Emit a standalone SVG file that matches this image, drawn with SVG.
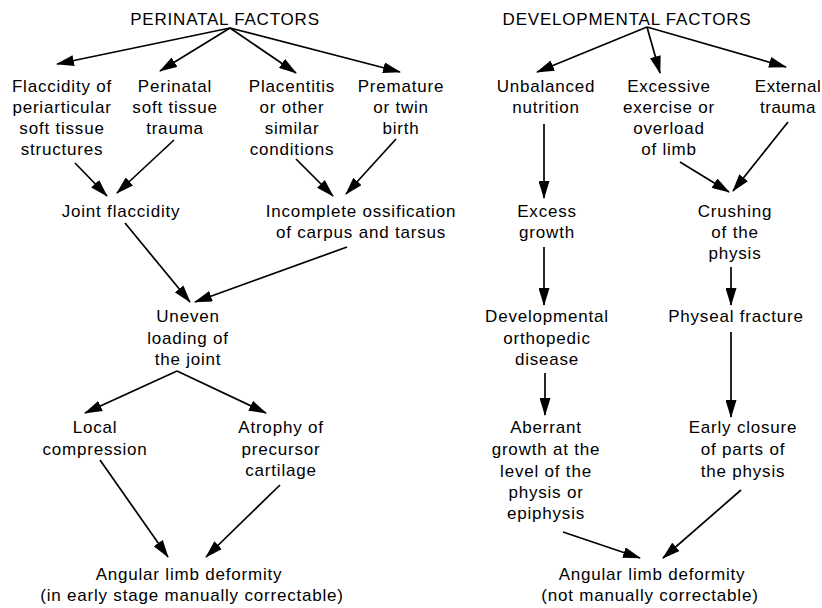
<svg xmlns="http://www.w3.org/2000/svg" width="822" height="608" viewBox="0 0 822 608">
<style>
text{font-family:"Liberation Sans",Arial,sans-serif;font-size:17px;letter-spacing:0.8px;fill:#000;text-anchor:middle}
.c line{stroke:#000;stroke-width:1.7;marker-end:url(#ah)}
</style>
<defs>
<marker id="ah" viewBox="0 0 18 11" refX="17" refY="5.5" markerWidth="18" markerHeight="11" markerUnits="userSpaceOnUse" orient="auto">
<path d="M0,0 L18,5.5 L0,11 z" fill="#000"/>
</marker>
</defs>
<rect width="822" height="608" fill="#fff"/>
<g id="perinatal"><text x="225" y="25">PERINATAL FACTORS</text></g>
<g id="flaccidity"><text x="62" y="92">Flaccidity of</text><text x="62" y="113">periarticular</text><text x="62" y="134">soft tissue</text><text x="62" y="155">structures</text></g>
<g id="softtissue"><text x="175" y="92">Perinatal</text><text x="175" y="113">soft tissue</text><text x="175" y="134">trauma</text></g>
<g id="placentitis"><text x="292" y="92">Placentitis</text><text x="292" y="113">or other</text><text x="292" y="134">similar</text><text x="292" y="155">conditions</text></g>
<g id="premature"><text x="401" y="92">Premature</text><text x="401" y="113">or twin</text><text x="401" y="134">birth</text></g>
<g id="jointflacc"><text x="121" y="217">Joint flaccidity</text></g>
<g id="incomplete"><text x="361" y="217">Incomplete ossification</text><text x="361" y="238">of carpus and tarsus</text></g>
<g id="uneven"><text x="188" y="322">Uneven</text><text x="188" y="344">loading of</text><text x="188" y="365">the joint</text></g>
<g id="local"><text x="95" y="433">Local</text><text x="95" y="455">compression</text></g>
<g id="atrophy"><text x="281" y="433">Atrophy of</text><text x="281" y="455">precursor</text><text x="281" y="476">cartilage</text></g>
<g id="angular1"><text x="189" y="580">Angular limb deformity</text><text x="192" y="601">(in early stage manually correctable)</text></g>
<g id="developmental"><text x="627" y="25">DEVELOPMENTAL FACTORS</text></g>
<g id="unbalanced"><text x="546" y="92">Unbalanced</text><text x="546" y="113">nutrition</text></g>
<g id="excessive"><text x="669" y="92">Excessive</text><text x="669" y="113">exercise or</text><text x="669" y="134">overload</text><text x="669" y="155">of limb</text></g>
<g id="external"><text x="788" y="92" style="letter-spacing:0.5px">External</text><text x="788" y="113" style="letter-spacing:0.5px">trauma</text></g>
<g id="excessgrowth"><text x="547" y="217">Excess</text><text x="547" y="238">growth</text></g>
<g id="crushing"><text x="735" y="217">Crushing</text><text x="735" y="238">of the</text><text x="735" y="259">physis</text></g>
<g id="dod"><text x="547" y="322">Developmental</text><text x="547" y="344">orthopedic</text><text x="547" y="365">disease</text></g>
<g id="physeal"><text x="736" y="322">Physeal fracture</text></g>
<g id="aberrant"><text x="546" y="433">Aberrant</text><text x="546" y="455">growth at the</text><text x="546" y="477">level of the</text><text x="546" y="498">physis or</text><text x="546" y="519">epiphysis</text></g>
<g id="early"><text x="743" y="433">Early closure</text><text x="743" y="455">of parts of</text><text x="743" y="477">the physis</text></g>
<g id="angular2"><text x="652" y="580">Angular limb deformity</text><text x="650" y="601">(not manually correctable)</text></g>
<g id="connectors" class="c">
<line x1="230" y1="28" x2="57" y2="64"/>
<line x1="230" y1="28" x2="160" y2="71"/>
<line x1="230" y1="28" x2="296" y2="73"/>
<line x1="230" y1="28" x2="400" y2="72"/>
<line x1="75" y1="163" x2="107" y2="196"/>
<line x1="174" y1="140" x2="117" y2="193"/>
<line x1="296" y1="159" x2="333" y2="196"/>
<line x1="396" y1="139" x2="346" y2="194"/>
<line x1="125" y1="223" x2="190" y2="302"/>
<line x1="347" y1="247" x2="195" y2="302"/>
<line x1="177" y1="371" x2="85" y2="413"/>
<line x1="177" y1="371" x2="266" y2="413"/>
<line x1="100" y1="460" x2="168" y2="557"/>
<line x1="280" y1="485" x2="206" y2="557"/>
<line x1="647" y1="27" x2="537" y2="72"/>
<line x1="647" y1="27" x2="660" y2="73"/>
<line x1="647" y1="27" x2="786" y2="67"/>
<line x1="544" y1="124" x2="544" y2="198"/>
<line x1="544" y1="247" x2="544" y2="305"/>
<line x1="680" y1="162" x2="729" y2="192"/>
<line x1="788" y1="122" x2="733" y2="191"/>
<line x1="731" y1="267" x2="731" y2="305"/>
<line x1="545" y1="373" x2="545" y2="415"/>
<line x1="731" y1="332" x2="731" y2="417"/>
<line x1="563" y1="532" x2="640" y2="558"/>
<line x1="741" y1="490" x2="663" y2="558"/>
</g>
</svg>
